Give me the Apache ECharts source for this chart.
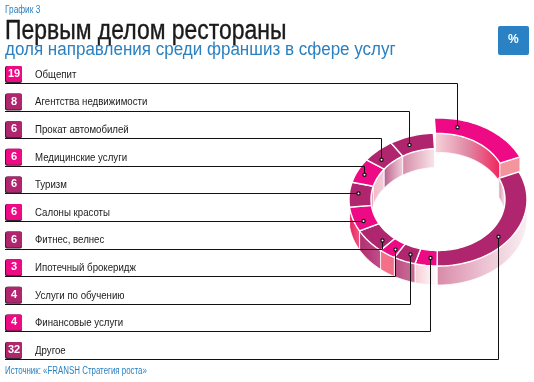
<!DOCTYPE html>
<html>
<head>
<meta charset="utf-8">
<style>
html, body { margin: 0; padding: 0; background: #fff; }
#chart { width: 534px; height: 382px; }
</style>
<script src="https://cdn.jsdelivr.net/npm/echarts@6/dist/echarts.min.js"></script>
</head>
<body>
<div id="chart"></div>
<script>
// rows as they go down the list
const categories = ['Общепит', 'Агентства недвижимости', 'Прокат автомобилей', 'Медицинские услуги', 'Туризм',
  'Салоны красоты', 'Фитнес, велнес', 'Ипотечный брокеридж', 'Услуги по обучению', 'Финансовые услуги', 'Другое'];
const shares = [19, 8, 6, 6, 6, 6, 6, 3, 4, 4, 32];

// clockwise order round the ring, as indexes into the rows
const ringOrder = [0, 10, 9, 8, 7, 6, 5, 4, 3, 2, 1];

const PINK = '#ee0a84';
const PLUM = '#b0266e';
const rowColors = [PINK, PLUM, PLUM, PINK, PLUM, PINK, PLUM, PINK, PLUM, PINK, PLUM];
// wall gradient left -> right for every row
const wallColors = [
  ['#f6d3da', '#e088a4', '#f0245e'], ['#d68aa8', '#e8b8c8', '#f9e6ec'], ['#b4608c', '#d898b4', '#f0d0dc'],
  ['#f4b8c8', '#f0c4d0', '#f0d0dc'], ['#d0507c', '#dc789a', '#e8a0b8'], ['#e81c60', '#ec3c72', '#f05c84'],
  ['#b03070', '#b83c7c', '#c0508a'], ['#f47088', '#f47088', '#f26c86'], ['#b84a84', '#c4608c', '#c86c94'],
  ['#f6ccd6', '#fae6ea', '#ffffff'], ['#d88aa8', '#ecc0d0', '#f8f0f3']
];
// where each leader lands: share of the way along its segment, share of the way across the band
const leaderAlong = [0.234, 0.35, 0.28, 0.42, 0.58, 0.33, 0.26, 0.3, 0.4, 0.37, 0.555];
const leaderAcross = [0.5, 0.5, 0.5, 0.63, 0.6, 0.6, 0.5, 0.55, 0.5, 0.5, 0.5];

const FONT = '"Liberation Sans", sans-serif';

// ring geometry
const CX = 438, CY = 199.5;
const OUT_A = 89, OUT_B = 66.5, IN_A = 67, IN_B = 51;
const DEPTH = 19;
const START = -3;
const SHIFT = { 0: [1, -15] }; // the restaurant slice is pulled out

const spans = {};
let acc = START;
ringOrder.forEach(function (row) {
  const sweep = shares[row] * 3.6;
  spans[row] = [acc, acc + sweep];
  acc += sweep;
});

function ringPoint(t, across, row) {
  const rad = t * Math.PI / 180;
  const a = IN_A + (OUT_A - IN_A) * across;
  const b = IN_B + (OUT_B - IN_B) * across;
  const s = SHIFT[row] || [0, 0];
  return [CX + a * Math.sin(rad) + s[0], CY - b * Math.cos(rad) + s[1]];
}

function arc(from, to, across, row, dy) {
  const pts = [];
  const n = Math.max(2, Math.ceil(Math.abs(to - from) / 2));
  for (let i = 0; i <= n; i++) {
    const p = ringPoint(from + (to - from) * i / n, across, row);
    pts.push([p[0], p[1] + dy]);
  }
  return pts;
}

function wallFill(row) {
  return new echarts.graphic.LinearGradient(0, 0, 1, 0, [
    { offset: 0, color: wallColors[row][0] },
    { offset: 0.5, color: wallColors[row][1] },
    { offset: 1, color: wallColors[row][2] }
  ]);
}

function wallShape(row, from, to, across) {
  const top = arc(from, to, across, row, 0);
  const bottom = arc(from, to, across, row, DEPTH).reverse();
  return {
    type: 'polygon',
    shape: { points: top.concat(bottom) },
    style: { fill: wallFill(row), stroke: '#fff', lineWidth: 0.8 }
  };
}

function renderWalls(params) {
  const row = ringOrder[params.dataIndex];
  const from = spans[row][0], to = spans[row][1];
  const children = [];
  // inner wall shows on the far half of the ring, outer wall on the near half
  const inFrom = Math.max(from, -90), inTo = Math.min(to, 90);
  if (inTo > inFrom) children.push(wallShape(row, inFrom, inTo, 0));
  const inFrom2 = Math.max(from, 270), inTo2 = Math.min(to, 450);
  if (inTo2 > inFrom2) children.push(wallShape(row, inFrom2, inTo2, 0));
  const outFrom = Math.max(from, 90), outTo = Math.min(to, 270);
  if (outTo > outFrom) children.push(wallShape(row, outFrom, outTo, 1));
  if (row === 0) {
    // cut face of the pulled out slice
    const a = ringPoint(to, 0, row), b = ringPoint(to, 1, row);
    children.push({
      type: 'polygon',
      shape: { points: [a, b, [b[0], b[1] + DEPTH - 4], [a[0], a[1] + DEPTH - 4]] },
      style: { fill: '#f4949f', stroke: '#fff', lineWidth: 0.8 }
    });
  }
  return { type: 'group', children: children };
}

function renderTops(params) {
  const row = ringOrder[params.dataIndex];
  const from = spans[row][0], to = spans[row][1];
  const pts = arc(from, to, 1, row, 0).concat(arc(to, from, 0, row, 0));
  return {
    type: 'polygon',
    shape: { points: pts },
    style: { fill: rowColors[row], stroke: '#fff', lineWidth: 1.4 }
  };
}

function ruleY(row) {
  return 83 + 27.6 * row;
}

function renderRow(params) {
  const row = params.dataIndex;
  const y = ruleY(row);
  const span = spans[row];
  const dot = ringPoint(span[0] + (span[1] - span[0]) * leaderAlong[row], leaderAcross[row], row);
  const x = Math.round(dot[0]) + 0.5;
  const dotY = Math.abs(dot[1] - y) < 5 ? y : dot[1];
  return {
    type: 'group',
    children: [
      {
        type: 'polyline',
        shape: { points: [[5, Math.round(y) + 0.5], [x, Math.round(y) + 0.5], [x, dotY]] },
        style: { fill: 'none', stroke: '#111', lineWidth: 1 }
      },
      { type: 'circle', shape: { cx: x, cy: dotY, r: 1.6 }, style: { fill: '#fff', stroke: '#111', lineWidth: 1.2 } },
      { type: 'rect', shape: { x: 5, y: y - 17, width: 17, height: 17, r: 2 }, style: { fill: '#2a2a2a' } },
      { type: 'rect', shape: { x: 6, y: y - 17, width: 16, height: 16, r: 2 }, style: { fill: rowColors[row] } },
      {
        type: 'text',
        style: {
          x: 14, y: y - 9, text: String(shares[row]), fill: '#fff',
          font: 'bold 11px ' + FONT, align: 'center', verticalAlign: 'middle'
        }
      },
      {
        type: 'text',
        x: 35,
        y: y - 8,
        scaleX: 0.92,
        style: {
          x: 0, y: 0, text: categories[row], fill: '#1a1a1a',
          font: '10.5px ' + FONT, align: 'left', verticalAlign: 'middle'
        }
      }
    ]
  };
}

const chart = echarts.init(document.getElementById('chart'), null, { renderer: 'canvas' });

chart.setOption({
  animation: false,
  backgroundColor: '#fff',
  graphic: [
    { type: 'text', x: 5, y: 5, scaleX: 0.83, style: { text: 'График 3', fill: '#2a80c0', font: '10px ' + FONT } },
    { type: 'text', x: 5, y: 18, scaleX: 0.85, style: { text: 'Первым делом рестораны', fill: '#1a1a1a', stroke: '#1a1a1a', lineWidth: 0.4, font: '27px ' + FONT } },
    { type: 'text', x: 5, y: 41, scaleX: 0.945, style: { text: 'доля направления среди франшиз в сфере услуг', fill: '#2a80c0', font: '18px ' + FONT } },
    { type: 'rect', x: 498, y: 26, shape: { width: 31, height: 29, r: 2 }, style: { fill: '#2a82c4' } },
    { type: 'text', x: 508, y: 34, style: { text: '%', fill: '#fff', font: 'bold 12px ' + FONT } },
    { type: 'text', x: 5, y: 366, scaleX: 0.79, style: { text: 'Источник: «FRANSH Стратегия роста»', fill: '#2a80c0', font: '10px ' + FONT } }
  ],
  series: [
    { type: 'custom', coordinateSystem: 'none', z: 1, silent: true, data: ringOrder.map(function (r) { return shares[r]; }), renderItem: renderWalls },
    { type: 'custom', coordinateSystem: 'none', z: 2, silent: true, data: ringOrder.map(function (r) { return shares[r]; }), renderItem: renderTops },
    { type: 'custom', coordinateSystem: 'none', z: 3, silent: true, data: shares, renderItem: renderRow }
  ]
});
</script>
</body>
</html>
